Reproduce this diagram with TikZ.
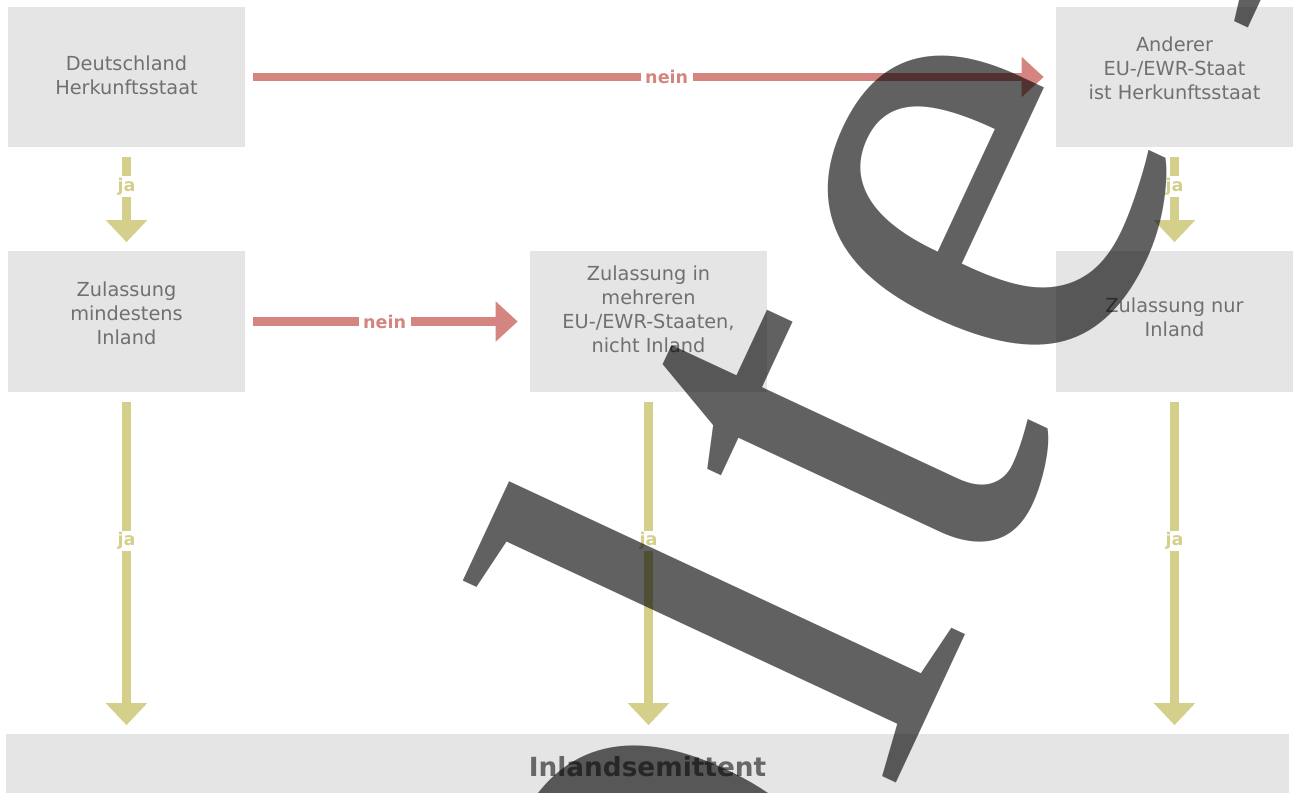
\documentclass[tikz,border=0pt]{standalone}
\usepackage{fontspec}
\setmainfont{DejaVu Sans}
\newfontfamily\wmfont[LetterSpace=3]{Liberation Serif}
\usetikzlibrary{arrows.meta}

\definecolor{boxgray}{RGB}{229,229,229}
\definecolor{textgray}{RGB}{112,112,112}
\definecolor{neinred}{RGB}{213,133,128}
\definecolor{jaolive}{RGB}{212,207,139}

\begin{document}
\begin{tikzpicture}[x=0.02cm, y=-0.02cm,
        box/.style={fill=boxgray, text=textgray, align=center, inner sep=0pt,
            minimum width=4.74cm, minimum height=2.82cm, text depth=#1,
            font=\fontsize{11}{13.7}\selectfont},
        box/.default=0pt,
        result/.style={fill=boxgray, text=textgray!92!black, inner sep=0pt,
            minimum width=25.66cm, minimum height=1.32cm,
            font=\bfseries\fontsize{15}{18}\selectfont},
        jaarrow/.style={draw=jaolive, line width=0.17cm,
            -{Triangle[width=0.8cm, length=0.44cm]},
            shorten <=0.19cm, shorten >=0.17cm},
        neinarrow/.style={draw=neinred, line width=0.17cm,
            -{Triangle[width=0.78cm, length=0.44cm]},
            shorten <=0.15cm, shorten >=0.24cm},
        jalabel/.style={fill=white, text=jaolive, inner xsep=2pt, inner ysep=1pt,
            font=\bfseries\fontsize{10}{12}\selectfont},
        neinlabel/.style={fill=white, text=neinred, inner xsep=2.5pt, inner ysep=1pt,
            font=\bfseries\fontsize{10}{12}\selectfont},
        watermark/.style={text=black, text opacity=0.62, inner sep=0pt,
            font=\wmfont\fontsize{392}{392}\selectfont}
    ]
        \useasboundingbox (0,0) rectangle (1297,793);

        % Top row
        \node[box=2.3pt] (dtl) at (126.5, 77) {Deutschland\\Herkunftsstaat};
        \node[box=10.2pt] (her) at (1174.5, 77) {Anderer\\EU-/EWR-Staat\\ist Herkunftsstaat};

        % Middle row
        \node[box=9.1pt] (zmi) at (126.5, 321.5) {Zulassung\\mindestens\\Inland};
        \node[box=13.7pt] (zme) at (648.5, 321.5) {Zulassung in\\mehreren\\EU-/EWR-Staaten,\\nicht Inland};
        \node[box=4.6pt] (znu) at (1174.5, 321.5) {Zulassung nur\\Inland};

        % Result
        \node[result] (emi) at (647.5, 767) {Inlandsemittent};

        % nein
        \draw[neinarrow] (dtl) -- node[neinlabel, pos=0.52] (nein1) {nein} (her);
        \draw[neinarrow] (zmi) -- node[neinlabel, pos=0.49] (nein2) {nein} (zme);

        % ja
        \draw[jaarrow] (dtl) -- node[jalabel, pos=0.375] (ja1) {ja} (zmi);
        \draw[jaarrow] (her) -- node[jalabel, pos=0.375] (ja2) {ja} (znu);
        \foreach \n in {zmi, zme, znu} {
            \draw[jaarrow] (\n) -- node[jalabel, pos=0.436] (ja-\n) {ja} (\n |- emi.north);
        }

        % Watermark
        \node[watermark, anchor=base west, rotate=65] (wk) at (476, 1684) {Wolte\kern0.15em rs Kluwer};
    \end{tikzpicture}
\end{document}
